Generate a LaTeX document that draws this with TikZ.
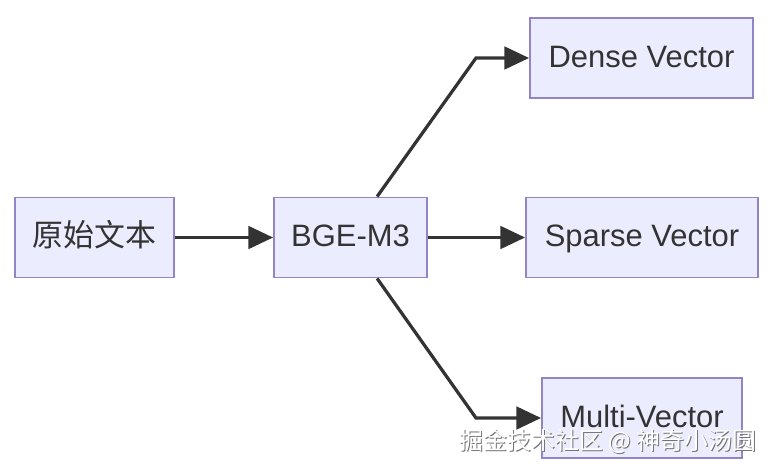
\documentclass[tikz,border=0pt]{standalone}
\usepackage{fontspec}
\setmainfont{Liberation Sans}
\newfontfamily\cjk{Noto Sans CJK SC}
\usetikzlibrary{arrows.meta}
\definecolor{boxfill}{HTML}{ECECFF}
\definecolor{boxline}{HTML}{9384C8}
\definecolor{linkcol}{HTML}{333333}
\begin{document}
\begin{tikzpicture}[x=0.025cm,y=-0.025cm]
  \tikzstyle{box}=[rectangle,draw=boxline,fill=boxfill,line width=1.3pt,
                   minimum height=2cm,inner sep=0pt,text=linkcol,text height=17.6pt,text depth=4.4pt,
                   font=\fontsize{22}{26}\selectfont]
  \tikzstyle{link}=[draw=linkcol,line width=2.3pt,-{Triangle[length=17.5pt,width=16pt]}]
  \tikzstyle{wmtext}=[font=\cjk\fontsize{17}{20}\selectfont]
  \useasboundingbox (0,0) rectangle (774,474);
  \node[box,minimum width=3.975cm] (raw) at (94.5,237.5) {\cjk 原始文本};
  \node[box,minimum width=3.825cm] (bge) at (350.5,237.5) {BGE-M3};
  \node[box,minimum width=5.575cm] (dense) at (641.5,58) {Dense Vector};
  \node[box,minimum width=5.8cm] (sparse) at (642,237.5) {Sparse Vector};
  \node[box,minimum width=5cm] (multi) at (642,418) {Multi-Vector};
  \coordinate (up) at (476,58);
  \coordinate (down) at (476,418);
  \draw[link] (raw) -- (bge);
  \draw[link] (bge) -- (sparse);
  \draw[link] ([xshift=2.6cm]bge.north west) -- (up) -- (dense.west);
  \draw[link] ([xshift=2.6cm]bge.south west) -- (down) -- (multi.west);
  % watermark
  \node[wmtext,text=black!55] (wmshade) at (609,442) {掘金技术社区 @ 神奇小汤圆};
  \node[wmtext,text=white] (wm) at (608,441) {掘金技术社区 @ 神奇小汤圆};
\end{tikzpicture}
\end{document}
